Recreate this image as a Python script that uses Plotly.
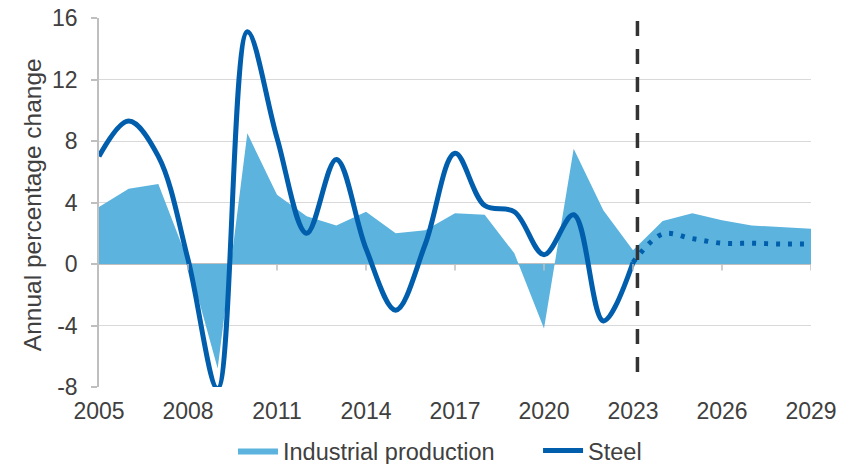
import plotly.graph_objects as go

# Annual percentage change, 2005-2029
years = list(range(2005, 2030))
industrial_production = [3.7, 4.9, 5.2, 0.2, -6.8, 8.5, 4.5, 3.1, 2.5, 3.4, 2.0, 2.2,
                         3.3, 3.2, 0.7, -4.2, 7.5, 3.5, 0.9, 2.8, 3.3, 2.85, 2.5, 2.4, 2.3]

steel_years = list(range(2005, 2024))
steel = [7.0, 9.3, 7.0, 0.3, -8.1, 15.1, 8.2, 2.0, 6.8, 1.0, -3.0, 1.3, 7.2, 3.8,
         3.4, 0.6, 3.2, -3.7, 0.1]

forecast_years = list(range(2023, 2030))
steel_forecast = [0.1, 1.95, 1.65, 1.35, 1.35, 1.3, 1.3]

forecast_start = 2023.15
x_ticks = [2005, 2008, 2011, 2014, 2017, 2020, 2023, 2026, 2029]
y_ticks = [-8, -4, 0, 4, 8, 12, 16]
y_tick_labels = ["-8", "-4", "0", "4", "8", "12", "16"]
y_title = "Annual percentage change"

FONT = "Liberation Sans, Arial, sans-serif"
TEXT = "#404040"
GRID = "#d9d9d9"
AXIS = "#bfbfbf"
IP_COLOR = "#5bb3de"
STEEL_COLOR = "#005eac"

fig = go.Figure()

fig.add_trace(go.Scatter(
    x=years, y=industrial_production, name="Industrial production",
    mode="lines", fill="tozeroy", fillcolor=IP_COLOR,
    line=dict(width=0, color=IP_COLOR), legend="legend",
))

fig.add_trace(go.Scatter(
    x=steel_years, y=steel, name="Steel", mode="lines",
    line=dict(color=STEEL_COLOR, width=5, shape="spline", smoothing=1.0),
    legend="legend2",
))

fig.add_trace(go.Scatter(
    x=forecast_years, y=steel_forecast, name="Steel forecast", mode="lines",
    showlegend=False,
    line=dict(color=STEEL_COLOR, width=5, shape="spline", smoothing=1.0,
              dash="4px,8px"),
))

# forecast boundary
fig.add_shape(type="line", xref="x", yref="y", x0=forecast_start, x1=forecast_start,
              y0=15.8, y1=-7.2, line=dict(color="#333333", width=3.5, dash="15px,13px"),
              layer="above")

# tick marks on the zero line
for t in x_ticks[1:]:
    fig.add_shape(type="line", xref="x", yref="y", x0=t, x1=t, y0=0, y1=-0.42,
                  line=dict(color=AXIS, width=1.5), layer="above")

# y-axis title
fig.add_annotation(text=y_title, xref="paper", yref="paper", x=-0.093, y=0.495,
                   xanchor="center", yanchor="middle", textangle=-90, showarrow=False,
                   font=dict(size=24.5, color=TEXT))

legend_style = dict(orientation="h", xref="container", xanchor="left",
                    yref="paper", y=-0.173, yanchor="middle",
                    font=dict(size=23.5, color=TEXT), itemwidth=40,
                    bgcolor="rgba(0,0,0,0)")

fig.update_layout(
    width=850, height=464,
    margin=dict(l=99, r=39, t=18, b=77, autoexpand=False),
    paper_bgcolor="white", plot_bgcolor="white",
    font=dict(family=FONT, size=24, color=TEXT),
    showlegend=True,
    legend=dict(x=0.2741, **legend_style),
    legend2=dict(x=0.633, **legend_style),
)

fig.update_xaxes(
    range=[2005, 2029], tickvals=x_ticks, ticktext=[str(t) for t in x_ticks],
    showgrid=False, zeroline=False, showline=False, ticks="", automargin=False,
    tickfont=dict(size=23, color=TEXT), ticklabelstandoff=8,
)

fig.update_yaxes(
    range=[-8, 16], tickvals=y_ticks, ticktext=y_tick_labels, automargin=False,
    showgrid=True, gridcolor=GRID, gridwidth=1.3,
    zeroline=True, zerolinecolor=AXIS, zerolinewidth=1.5,
    showline=True, linecolor=AXIS, linewidth=1.5,
    ticks="outside", ticklen=6, tickcolor=AXIS, tickwidth=1.5,
    tickfont=dict(size=23, color=TEXT), ticklabelstandoff=9,
)

fig.write_html("out.html")
